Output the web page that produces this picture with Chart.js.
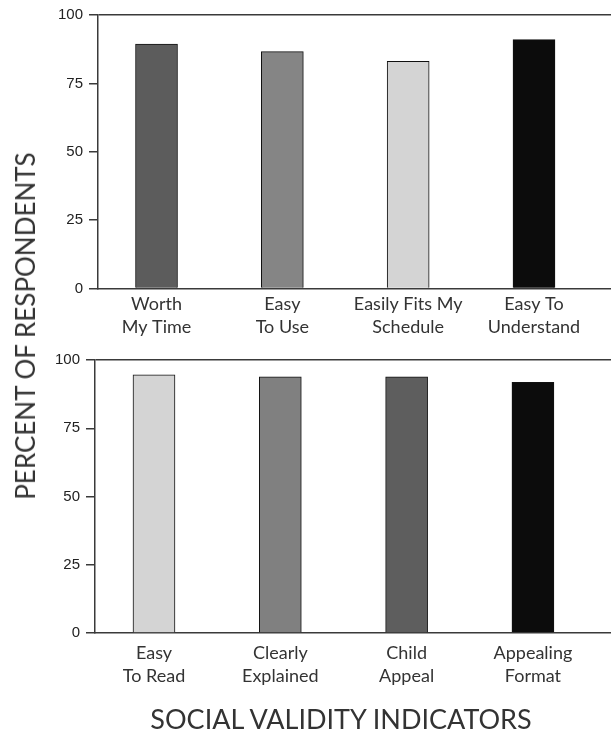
<!DOCTYPE html>
<html lang="en">
<head>
    <meta charset="UTF-8">
    <title>Social Validity Indicators</title>
    <script src="https://cdn.jsdelivr.net/npm/chart.js@4.4.1/dist/chart.umd.min.js"></script>
    <style>
        body { margin: 0; background: #fff; }
        #wrap { position: relative; width: 611px; height: 731px; overflow: hidden; }
        canvas { position: absolute; left: 0; }
        #topChart { top: 0; }
        #bottomChart { top: 345px; }
        .title { position: absolute; font-family: Lato, sans-serif; color: #333; white-space: nowrap; line-height: 1; }
        #yTitle { left: 25px; top: 326px; font-size: 26px; transform: translate(-50%, -50%) rotate(-90deg); }
        #xTitle { left: 341px; top: 718px; font-size: 27px; transform: translate(-50%, -50%); }
    </style>
</head>
<body>
<div id="wrap">
    <canvas id="topChart" width="611" height="345"></canvas>
    <canvas id="bottomChart" width="611" height="386"></canvas>
    <div class="title" id="yTitle">PERCENT OF RESPONDENTS</div>
    <div class="title" id="xTitle">SOCIAL VALIDITY INDICATORS</div>
</div>

<script>
    // top panel
    const topLabels = [['Worth', 'My Time'], ['Easy', 'To Use'], ['Easily Fits My', 'Schedule'], ['Easy To', 'Understand']];
    const topValues = [89.4, 86.6, 83.1, 91.0];
    const topColors = ['#5c5c5c', '#858585', '#d4d4d4', '#0c0c0c'];

    // bottom panel
    const bottomLabels = [['Easy', 'To Read'], ['Clearly', 'Explained'], ['Child', 'Appeal'], ['Appealing', 'Format']];
    const bottomValues = [94.6, 93.8, 93.8, 91.8];
    const bottomColors = ['#d4d4d4', '#808080', '#5e5e5e', '#0c0c0c'];

    const yTicks = [0, 25, 50, 75, 100];
    const positions = [1, 2, 3, 4];

    const axisColor = '#3a3a3a';

    function makeChart(id, labels, values, colors, opts) {
        const ctx = document.getElementById(id).getContext('2d');
        return new Chart(ctx, {
            type: 'bar',
            data: {
                datasets: [{
                    data: positions.map((p, i) => ({ x: p, y: values[i] })),
                    backgroundColor: colors,
                    borderColor: '#111',
                    borderWidth: 1,
                    borderSkipped: 'bottom',
                    barThickness: 42
                }]
            },
            options: {
                responsive: false,
                animation: false,
                devicePixelRatio: 1,
                layout: { padding: { top: 15, left: 0, right: 0, bottom: 0 } },
                plugins: { legend: { display: false }, tooltip: { enabled: false } },
                scales: {
                    x: {
                        type: 'linear',
                        min: opts.xMin,
                        max: opts.xMax,
                        offset: false,
                        afterBuildTicks: s => { s.ticks = positions.map(v => ({ value: v })); },
                        afterFit: s => { s.height = opts.xHeight; },
                        grid: { display: false, drawTicks: false, tickLength: 0 },
                        border: { display: true, color: axisColor, width: 1.5 },
                        ticks: {
                            padding: opts.labelPad,
                            maxRotation: 0,
                            autoSkip: false,
                            color: '#333',
                            font: { family: 'Lato', size: 18, lineHeight: 1.28 },
                            callback: v => labels[v - 1]
                        }
                    },
                    y: {
                        min: 0,
                        max: 100,
                        afterBuildTicks: s => { s.ticks = yTicks.map(v => ({ value: v })); },
                        afterFit: s => { s.width = opts.yWidth; },
                        grid: {
                            drawTicks: true,
                            tickLength: 9,
                            tickColor: axisColor,
                            tickWidth: 1.5,
                            lineWidth: 1.5,
                            color: c => c.tick && c.tick.value === 100 ? axisColor : 'rgba(0,0,0,0)'
                        },
                        border: { display: true, color: axisColor, width: 1.5 },
                        ticks: {
                            padding: 6,
                            color: '#222',
                            font: { family: 'Liberation Sans', size: 15 }
                        }
                    }
                }
            }
        });
    }

    makeChart('topChart', topLabels, topValues, topColors,
        { xMin: 0.535, xMax: 4.612, xHeight: 56.5, yWidth: 98, labelPad: 4 });
    makeChart('bottomChart', bottomLabels, bottomValues, bottomColors,
        { xMin: 0.533, xMax: 4.618, xHeight: 98, yWidth: 95, labelPad: 9 });
</script>
</body>
</html>
